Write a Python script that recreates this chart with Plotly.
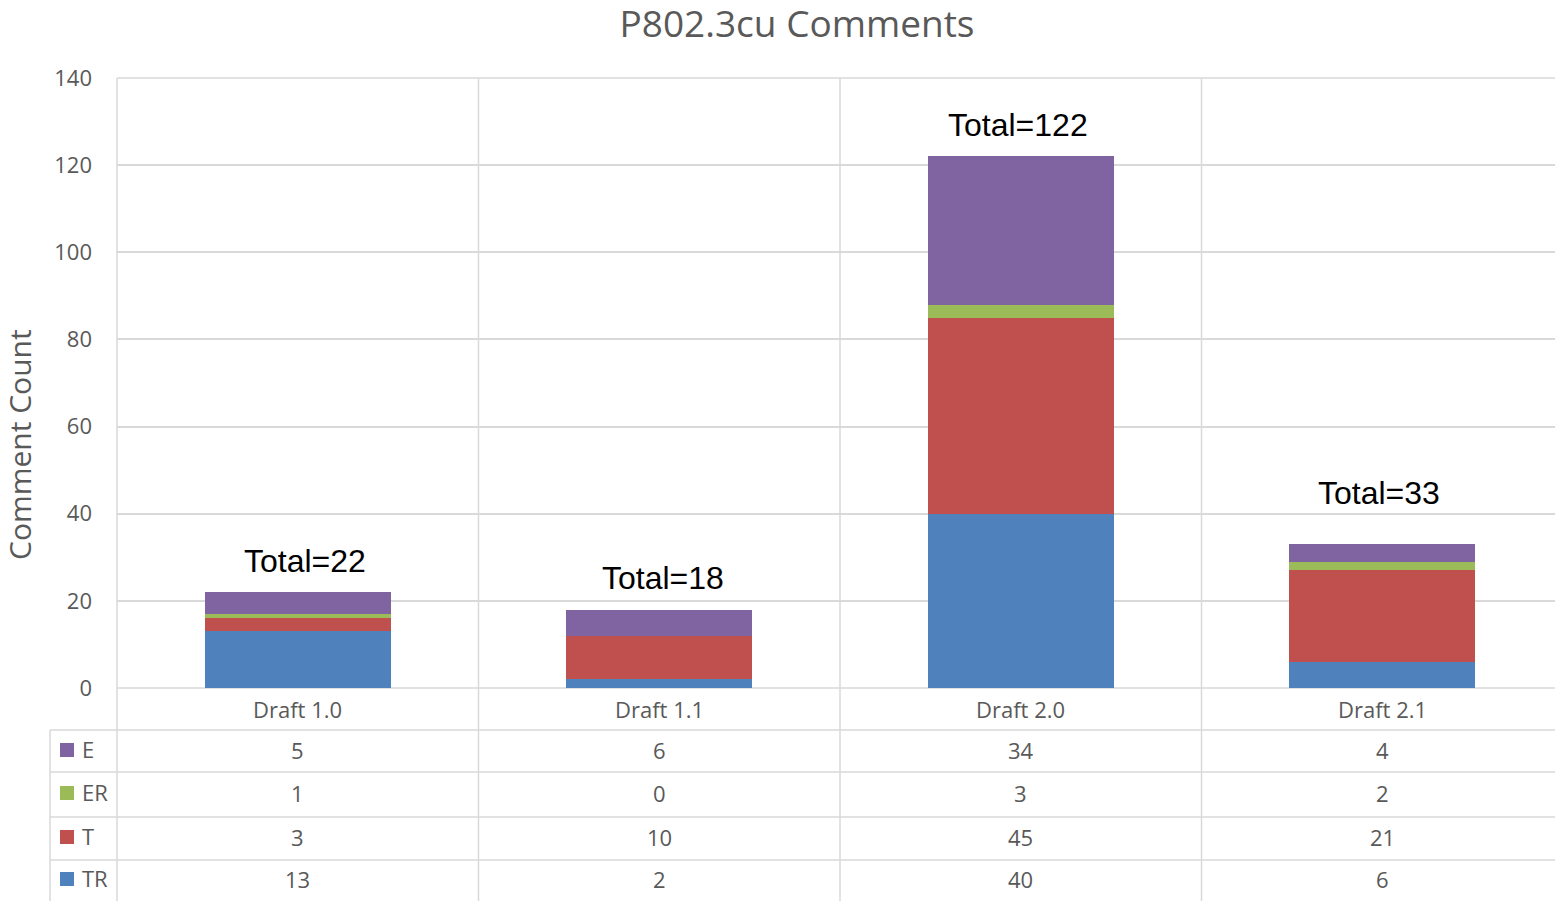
import plotly.graph_objects as go

# ---------------- data ----------------
categories = ["Draft 1.0", "Draft 1.1", "Draft 2.0", "Draft 2.1"]
series_names = ["E", "ER", "T", "TR"]          # table order (top to bottom)
values_E = [5, 6, 34, 4]
values_ER = [1, 0, 3, 2]
values_T = [3, 10, 45, 21]
values_TR = [13, 2, 40, 6]
y_ticks = [0, 20, 40, 60, 80, 100, 120, 140]
title_text = "P802.3cu Comments"
y_title = "Comment Count"

# ---------------- style ----------------
colors = {"E": "#8064A2", "ER": "#9BBB59", "T": "#C0504D", "TR": "#4F81BD"}
OFF = 8                       # page body margin
W, H = 1563 - OFF, 901 - OFF
ML, MR, MT = 117 - OFF, 0, 78 - OFF
MB = H - (688 - OFF)
grid_col = "#D9D9D9"
text_col = "#595959"
gray_font = "Open Sans"
total_shift_y = [31, 32, 31, 51]
total_shift_x = [7, 4, -3, -3]

series = {"E": values_E, "ER": values_ER, "T": values_T, "TR": values_TR}


def px2x(px):
    return (px - OFF - ML) / (W - ML - MR)


def py2y(py):
    return (H - MB - (py - OFF)) / (H - MT - MB)


fig = go.Figure()
for name in ["TR", "T", "ER", "E"]:
    fig.add_trace(go.Bar(
        x=categories, y=series[name], name=name,
        marker=dict(color=colors[name], line=dict(width=0)),
        showlegend=False,
    ))

totals = [sum(v) for v in zip(values_E, values_ER, values_T, values_TR)]

annotations = []
for i, (c, tot) in enumerate(zip(categories, totals)):
    annotations.append(dict(
        x=c, y=tot, xref="x", yref="y", text=f"Total={tot}", showarrow=False,
        yanchor="middle", xanchor="center", yshift=total_shift_y[i], xshift=total_shift_x[i],
        font=dict(family="Liberation Sans", size=32, color="black")))

# table: header row (categories)
n = len(categories)
row_centers_px = [750, 793, 837, 879]
for i, c in enumerate(categories):
    xc = (i + 0.5) / n
    annotations.append(dict(
        x=xc, y=py2y(709), xref="paper", yref="paper", text=c, showarrow=False,
        xanchor="center", yanchor="middle",
        font=dict(family=gray_font, size=22, color=text_col)))
    for r, name in enumerate(series_names):
        annotations.append(dict(
            x=xc, y=py2y(row_centers_px[r]), xref="paper", yref="paper",
            text=str(series[name][i]), showarrow=False,
            xanchor="center", yanchor="middle",
            font=dict(family=gray_font, size=22, color=text_col)))

shapes = []
# row labels with colour keys
for r, name in enumerate(series_names):
    yc = row_centers_px[r]
    shapes.append(dict(type="rect", xref="paper", yref="paper",
                       x0=px2x(60), x1=px2x(74), y0=py2y(yc - 7), y1=py2y(yc + 7),
                       fillcolor=colors[name], line=dict(width=0), layer="above"))
    annotations.append(dict(
        x=px2x(80), y=py2y(yc - 1), xref="paper", yref="paper", text=name,
        showarrow=False, xanchor="left", yanchor="middle",
        font=dict(family=gray_font, size=22, color=text_col)))

line = dict(color=grid_col, width=1.5)
# horizontal table lines
for py in [730, 772, 817, 860]:
    shapes.append(dict(type="line", xref="paper", yref="paper",
                       x0=px2x(50), x1=1, y0=py2y(py), y1=py2y(py), line=line, layer="below"))
shapes.append(dict(type="line", xref="paper", yref="paper",
                   x0=0, x1=1, y0=0, y1=0, line=line, layer="below"))
shapes.append(dict(type="line", xref="paper", yref="paper",
                   x0=0, x1=1, y0=1, y1=1, line=line, layer="below"))
# vertical lines
for k in range(0, n + 1):
    shapes.append(dict(type="line", xref="paper", yref="paper",
                       x0=k / n, x1=k / n, y0=1, y1=py2y(901), line=line, layer="below"))
shapes.append(dict(type="line", xref="paper", yref="paper",
                   x0=px2x(50), x1=px2x(50), y0=py2y(730), y1=py2y(901), line=line, layer="below"))

# y-axis title
annotations.append(dict(
    x=px2x(19), y=py2y(445), xref="paper", yref="paper", text=y_title,
    showarrow=False, textangle=-90, xanchor="center", yanchor="middle",
    font=dict(family=gray_font, size=30, color=text_col)))

fig.update_layout(
    width=W, height=H,
    margin=dict(l=ML, r=MR, t=MT, b=MB, pad=0),
    paper_bgcolor="white", plot_bgcolor="white",
    barmode="stack", bargap=0.485,
    title=dict(text=title_text, x=(797 - OFF) / W, xref="container", xanchor="center",
               y=1 - (24 - OFF) / H, yref="container", yanchor="middle",
               font=dict(family=gray_font, size=37, color=text_col)),
    xaxis=dict(showticklabels=False, showgrid=False, zeroline=False, showline=False,
               ticks="", range=[-0.5, n - 0.5]),
    yaxis=dict(range=[0, 140], tickvals=y_ticks, showgrid=True, gridcolor=grid_col,
               gridwidth=1.5, zeroline=False, showline=False, ticks="",
               ticklabelstandoff=24,
               tickfont=dict(family=gray_font, size=22, color=text_col)),
    annotations=annotations,
    shapes=shapes,
)

fig.write_html("out.html")
